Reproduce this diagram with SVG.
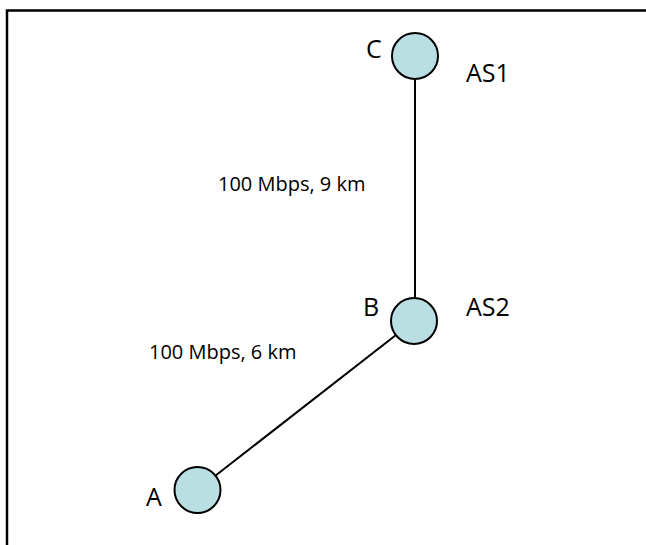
<svg xmlns="http://www.w3.org/2000/svg" width="646" height="545" viewBox="0 0 646 545">
<style>
.node{fill:#b9dfe3;stroke:#000;stroke-width:2}
.lbl{font-family:"Open Sans","Liberation Sans",sans-serif;font-size:25px;fill:#000}
.edge{font-family:"Open Sans","Liberation Sans",sans-serif;font-size:20px;fill:#000}
.link{stroke:#000;stroke-width:2;fill:none}
</style>
<rect width="646" height="545" fill="#fff"/>
<path d="M7 545 V10.5 H646" fill="none" stroke="#000" stroke-width="2.5"/>
<g id="connectors">
<line class="link" x1="415" y1="79" x2="415" y2="298"/>
<line class="link" x1="396" y1="335" x2="215" y2="476"/>
<text class="edge" x="218" y="191">100 Mbps, 9 km</text>
<text class="edge" x="149" y="359">100 Mbps, 6 km</text>
</g>
<g id="node-C">
<circle class="node" cx="415" cy="56" r="23"/>
<text class="lbl" x="366" y="58">C</text>
<text class="lbl" x="466" y="82">AS1</text>
</g>
<g id="node-B">
<circle class="node" cx="414" cy="321" r="23"/>
<text class="lbl" x="363" y="316">B</text>
<text class="lbl" x="466" y="316">AS2</text>
</g>
<g id="node-A">
<circle class="node" cx="197.5" cy="490" r="23"/>
<text class="lbl" x="146" y="506">A</text>
</g>
</svg>
